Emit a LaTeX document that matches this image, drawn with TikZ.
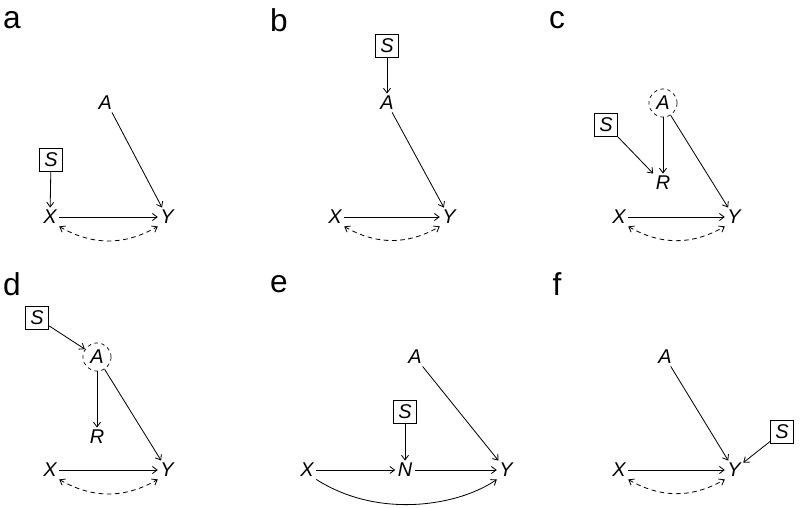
\documentclass[tikz,border=0pt]{standalone}
\usepackage{fontspec}
\setmainfont{Liberation Sans}
\usetikzlibrary{arrows.meta}
\begin{document}
\begin{tikzpicture}[x=0.3mm,y=-0.3mm,
   var/.style={font=\fontsize{17}{20}\selectfont\itshape,inner sep=2pt},
   sel/.style={var,draw,line width=0.6pt,minimum size=20pt},
   lat/.style={var,draw,dashed,circle,line width=0.6pt,minimum size=24pt},
   arr/.style={line width=0.7pt,-{Straight Barb[length=4pt,width=6pt]}},
   conf/.style={arr,{Straight Barb[length=4pt,width=6pt]}-{Straight Barb[length=4pt,width=6pt]},dashed,dash pattern=on 4pt off 3pt},
   panel/.style={font=\fontsize{27}{30}\selectfont,inner sep=0pt}]
   \useasboundingbox (0,0) rectangle (800,507);
   % a
   \node [panel] at (12,20) {a};
   \node [var] (aA) at (107,103) {$\!$A};
   \node [sel] (aS) at (51,160) {S};
   \node [var] (aX) at (50,217) {X};
   \node [var] (aY) at (167,217) {Y};
   \draw [arr] (aS) -- (aX);
   \draw [arr] (aA) -- (aY);
   \draw [arr] (aX) -- (aY);
   \draw [conf] (aX.south east) to [bend right=30] (aY.south west);
   % b
   \node [panel] at (279,20) {b};
   \node [sel] (bS) at (387,46) {S};
   \node [var] (bA) at (387,103) {A};
   \node [var] (bX) at (335,217) {X};
   \node [var] (bY) at (449,217) {Y};
   \draw [arr] (bS) -- (bA);
   \draw [arr] (bA) -- (bY);
   \draw [arr] (bX) -- (bY);
   \draw [conf] (bX.south east) to [bend right=30] (bY.south west);
   % c
   \node [panel] at (557,20) {c};
   \node [lat] (cA) at (663,103) {A};
   \node [sel] (cS) at (606,125) {S};
   \node [var] (cR) at (663,183) {R};
   \node [var] (cX) at (619,217) {X};
   \node [var] (cY) at (734,217) {Y};
   \draw [arr] (cA) -- (cR);
   \draw [arr] (cS.south east) -- (cR.north west);
   \draw [arr] (cA) -- (cY);
   \draw [arr] (cX) -- (cY);
   \draw [conf] (cX.south east) to [bend right=30] (cY.south west);
   % d
   \node [panel] at (12,284) {d};
   \node [sel] (dS) at (37,318) {S};
   \node [lat] (dA) at (97,357) {A};
   \node [var] (dR) at (97,437) {R};
   \node [var] (dX) at (50,470) {X};
   \node [var] (dY) at (167,470) {Y};
   \draw [arr] (dS) -- (dA);
   \draw [arr] (dA) -- (dR);
   \draw [arr] (dA) -- (dY);
   \draw [arr] (dX) -- (dY);
   \draw [conf] (dX.south east) to [bend right=30] (dY.south west);
   % e
   \node [panel] at (279,284) {e};
   \node [var] (eA) at (415,357) {A};
   \node [sel] (eS) at (405,412) {S};
   \node [var] (eN) at (405,470) {N};
   \node [var] (eX) at (307,470) {X};
   \node [var] (eY) at (506,470) {Y};
   \draw [arr] (eS) -- (eN);
   \draw [arr] (eX) -- (eN);
   \draw [arr] (eN) -- (eY);
   \draw [arr] (eA) -- (eY);
   \draw [arr] (eX.south east) .. controls (380,520) and (460,505) .. (eY.south west);
   % f
   \node [panel] at (557,284) {f};
   \node [var] (fA) at (665,357) {A};
   \node [sel] (fS) at (782,432) {S};
   \node [var] (fX) at (619,470) {X};
   \node [var] (fY) at (734,470) {Y};
   \draw [arr] (fA) -- (fY);
   \draw [arr] (fS) -- (fY);
   \draw [arr] (fX) -- (fY);
   \draw [conf] (fX.south east) to [bend right=30] (fY.south west);
\end{tikzpicture}
\end{document}
